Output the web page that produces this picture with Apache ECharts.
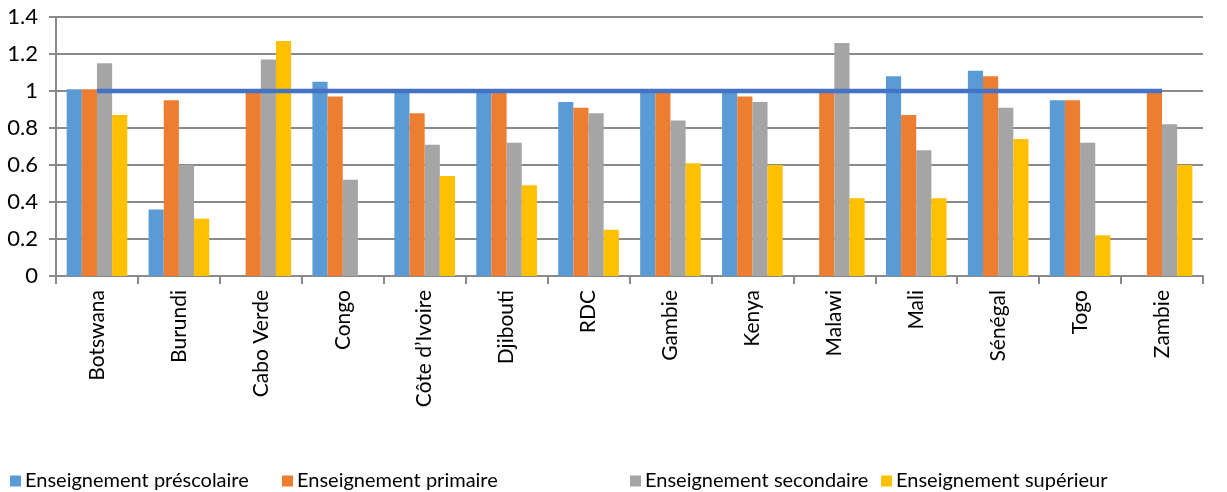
<!DOCTYPE html>
<html>
<head>
<meta charset="utf-8">
<script src="https://cdn.jsdelivr.net/npm/echarts@6/dist/echarts.min.js"></script>
<style>
  html, body { margin: 0; padding: 0; background: #fff; }
  #chart { width: 1227px; height: 492px; }
</style>
</head>
<body>
<div id="chart"></div>
<script>
  var categories = ['Botswana', 'Burundi', 'Cabo Verde', 'Congo', 'Côte d’Ivoire', 'Djibouti', 'RDC',
    'Gambie', 'Kenya', 'Malawi', 'Mali', 'Sénégal', 'Togo', 'Zambie'];
  var yTicks = [0, 0.2, 0.4, 0.6, 0.8, 1, 1.2, 1.4];

  var prescolaire = [1.01, 0.36, null, 1.05, 1.0, 1.0, 0.94, 1.0, 1.01, null, 1.08, 1.11, 0.95, null];
  var primaire    = [1.01, 0.95, 0.99, 0.97, 0.88, 0.99, 0.91, 1.0, 0.97, 1.0, 0.87, 1.08, 0.95, 1.0];
  var secondaire  = [1.15, 0.60, 1.17, 0.52, 0.71, 0.72, 0.88, 0.84, 0.94, 1.26, 0.68, 0.91, 0.72, 0.82];
  var superieur   = [0.87, 0.31, 1.27, null, 0.54, 0.49, 0.25, 0.61, 0.60, 0.42, 0.42, 0.74, 0.22, 0.60];
  var parite      = [1, 1, 1, 1, 1, 1, 1, 1, 1, 1, 1, 1, 1, 1];

  var names = ['Enseignement préscolaire', 'Enseignement primaire', 'Enseignement secondaire', 'Enseignement supérieur'];
  var colors = ['#5B9BD5', '#ED7D31', '#A5A5A5', '#FFC000'];
  var font = 'Lato, "Liberation Sans", sans-serif';

  var chart = echarts.init(document.getElementById('chart'));

  // one legend per item so they sit where the original puts them
  var legendLeft = [5, 277, 625, 876];
  var legends = names.map(function (n, i) {
    return {
      data: [n],
      left: legendLeft[i],
      top: 466,
      itemWidth: 11,
      itemHeight: 11,
      itemGap: 4,
      icon: 'rect',
      textStyle: { fontFamily: font, fontSize: 20, color: '#000', padding: [0, 0, 0, -1] }
    };
  });

  var bars = [prescolaire, primaire, secondaire, superieur].map(function (d, i) {
    return {
      name: names[i],
      type: 'bar',
      data: d,
      barGap: '0%',
      barCategoryGap: '26%',
      itemStyle: { color: colors[i] },
      animation: false
    };
  });

  var option = {
    animation: false,
    textStyle: { fontFamily: font },
    legend: legends,
    grid: { left: 56, right: 24, top: 17, bottom: 216 },
    xAxis: {
      type: 'category',
      data: categories,
      axisLine: { lineStyle: { color: '#8a8a8a', width: 2 } },
      axisTick: { show: true, length: 8, lineStyle: { color: '#8a8a8a', width: 2 } },
      axisLabel: { rotate: 90, margin: 14, fontSize: 21, color: '#000', fontFamily: font, interval: 0 }
    },
    yAxis: {
      type: 'value',
      min: 0,
      max: yTicks[yTicks.length - 1],
      interval: 0.2,
      axisLine: { show: true, lineStyle: { color: '#8a8a8a', width: 2 } },
      axisTick: { show: true, length: 7, lineStyle: { color: '#8a8a8a', width: 2 } },
      axisLabel: {
        margin: 18, fontSize: 22, color: '#000', fontFamily: font,
        formatter: function (v) { return String(Math.round(v * 10) / 10); }
      },
      splitLine: { lineStyle: { color: '#8a8a8a', width: 2 } }
    },
    series: bars.concat([{
      name: 'Parité',
      type: 'line',
      data: parite,
      symbol: 'none',
      z: 5,
      lineStyle: { color: '#4472C4', width: 4.5 }
    }])
  };

  chart.setOption(option);
</script>
</body>
</html>
